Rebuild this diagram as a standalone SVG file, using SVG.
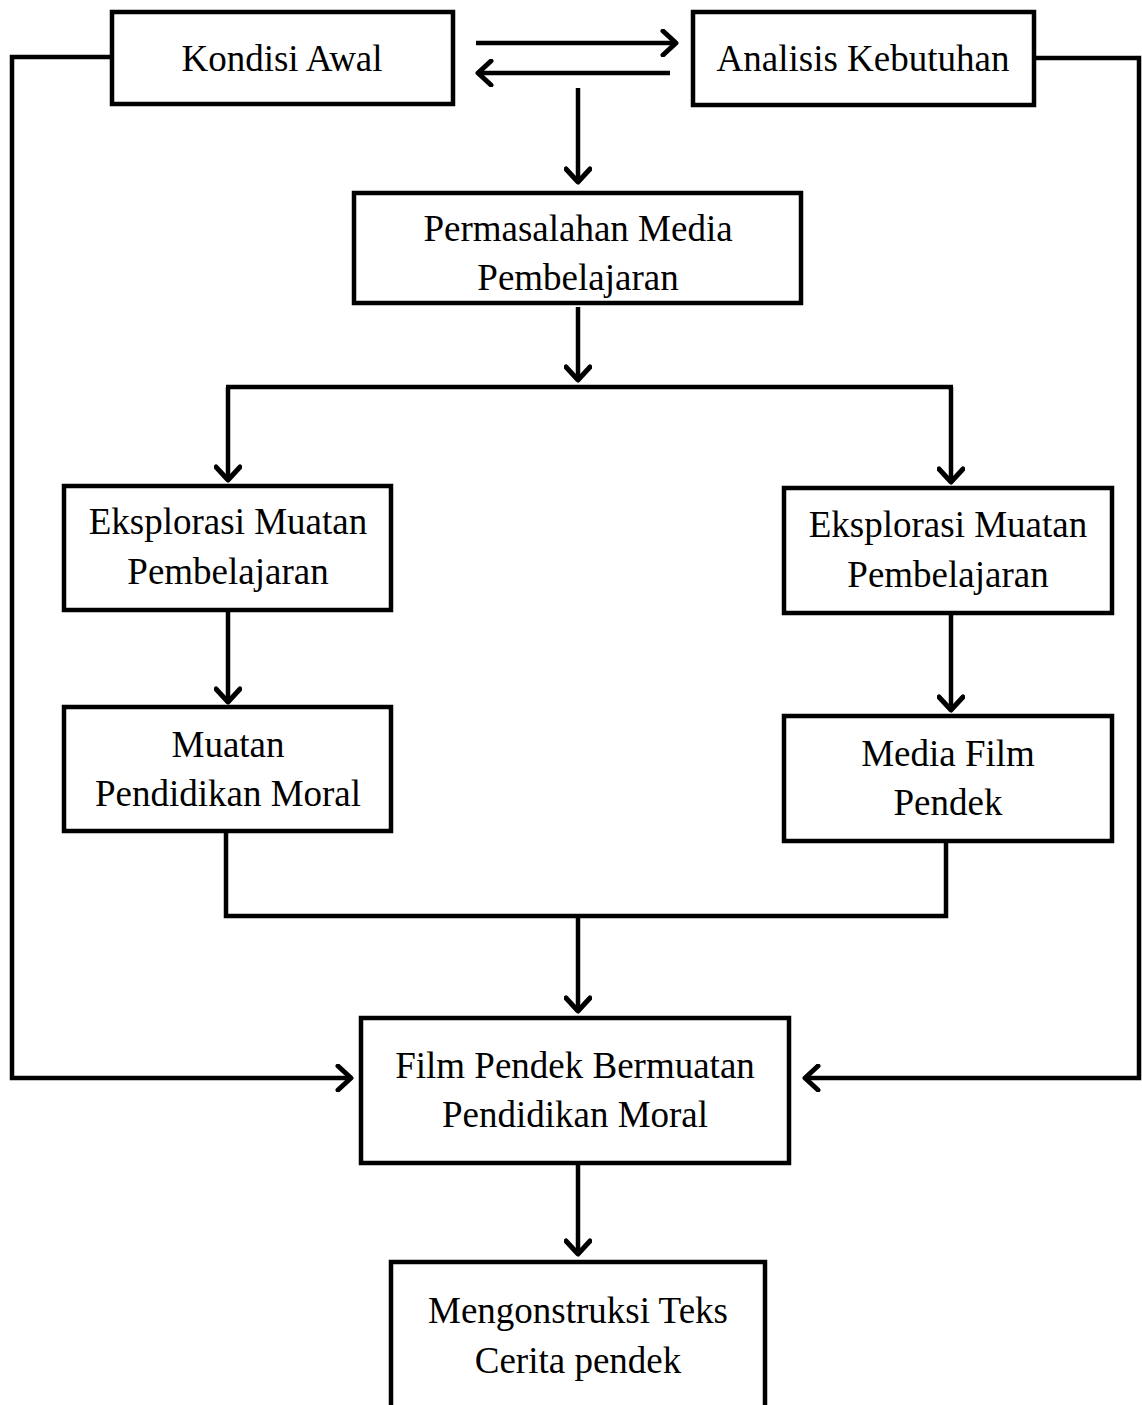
<svg xmlns="http://www.w3.org/2000/svg" width="1142" height="1405" viewBox="0 0 1142 1405">
<defs>
<style>
.box{fill:#fff;stroke:#000;stroke-width:4.5}
.ln{fill:none;stroke:#000;stroke-width:4.5}
text{font-family:"Liberation Serif","Times New Roman",serif;font-size:37px;fill:#000;text-anchor:middle}
</style>
<marker id="arr" viewBox="-16 -14 19 28" markerWidth="19" markerHeight="28" refX="0" refY="0" orient="auto" markerUnits="userSpaceOnUse">
<path d="M-13,-12 L0,0 L-13,12" fill="none" stroke="#000" stroke-width="5" stroke-linecap="round" stroke-linejoin="round"/>
</marker>
</defs>
<rect width="1142" height="1405" fill="#fff"/>
<g id="connectors">
<line class="ln" x1="476" y1="43" x2="676" y2="43" marker-end="url(#arr)"/>
<line class="ln" x1="670" y1="73" x2="478" y2="73" marker-end="url(#arr)"/>
<line class="ln" x1="578" y1="88" x2="578" y2="182" marker-end="url(#arr)"/>
<polyline class="ln" points="112,57 12,57 12,1078 351,1078" marker-end="url(#arr)"/>
<polyline class="ln" points="1034,58 1139,58 1139,1078 805,1078" marker-end="url(#arr)"/>
<line class="ln" x1="578" y1="307" x2="578" y2="380" marker-end="url(#arr)"/>
<line class="ln" x1="226" y1="387" x2="953" y2="387"/>
<line class="ln" x1="228" y1="387" x2="228" y2="480" marker-end="url(#arr)"/>
<line class="ln" x1="951" y1="387" x2="951" y2="482" marker-end="url(#arr)"/>
<line class="ln" x1="228" y1="612" x2="228" y2="702" marker-end="url(#arr)"/>
<line class="ln" x1="951" y1="615" x2="951" y2="710" marker-end="url(#arr)"/>
<polyline class="ln" points="226,833 226,916 946,916 946,843"/>
<line class="ln" x1="578" y1="916" x2="578" y2="1011" marker-end="url(#arr)"/>
<line class="ln" x1="578" y1="1165" x2="578" y2="1254" marker-end="url(#arr)"/>
</g>
<g id="kondisi-awal">
<rect class="box" x="112" y="12" width="341" height="92"/>
<text x="282" y="71">Kondisi Awal</text>
</g>
<g id="analisis-kebutuhan">
<rect class="box" x="693" y="12" width="341" height="93"/>
<text x="863" y="71">Analisis Kebutuhan</text>
</g>
<g id="permasalahan">
<rect class="box" x="354" y="193" width="447" height="110"/>
<text x="578" y="241">Permasalahan Media</text>
<text x="578" y="290">Pembelajaran</text>
</g>
<g id="eksplorasi-kiri">
<rect class="box" x="64" y="486" width="327" height="124"/>
<text x="228" y="534">Eksplorasi Muatan</text>
<text x="228" y="584">Pembelajaran</text>
</g>
<g id="eksplorasi-kanan">
<rect class="box" x="784" y="488" width="328" height="125"/>
<text x="948" y="537">Eksplorasi Muatan</text>
<text x="948" y="587">Pembelajaran</text>
</g>
<g id="muatan-moral">
<rect class="box" x="64" y="707" width="327" height="124"/>
<text x="228" y="757">Muatan</text>
<text x="228" y="806">Pendidikan Moral</text>
</g>
<g id="media-film">
<rect class="box" x="784" y="716" width="328" height="125"/>
<text x="948" y="766">Media Film</text>
<text x="948" y="815">Pendek</text>
</g>
<g id="film-pendek">
<rect class="box" x="361" y="1018" width="428" height="145"/>
<text x="575" y="1078">Film Pendek Bermuatan</text>
<text x="575" y="1127">Pendidikan Moral</text>
</g>
<g id="mengonstruksi">
<rect class="box" x="391" y="1262" width="374" height="160"/>
<text x="578" y="1323">Mengonstruksi Teks</text>
<text x="578" y="1373">Cerita pendek</text>
</g>
</svg>
